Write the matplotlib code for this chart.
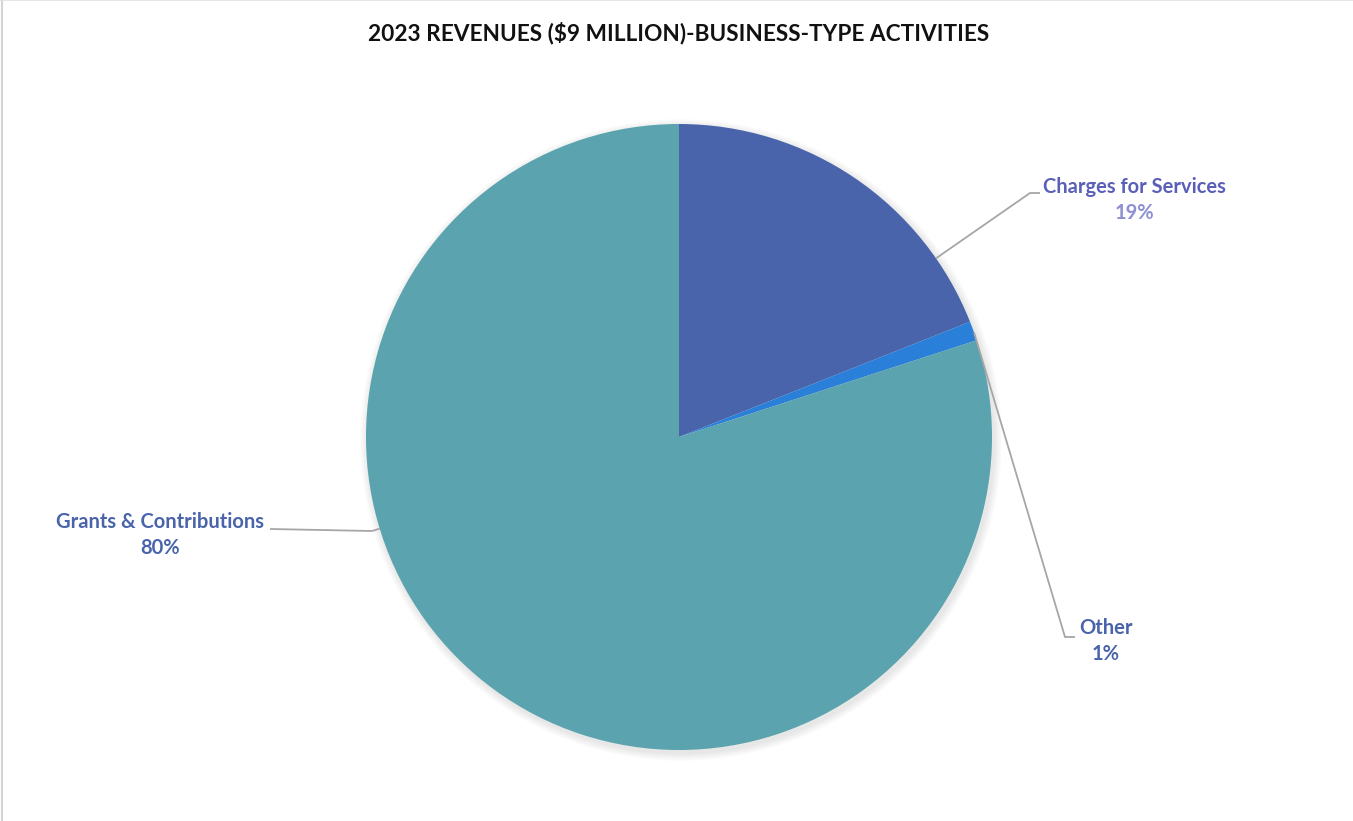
import numpy as np
import matplotlib.pyplot as plt

# revenue shares, percent
categories = ["Charges for Services", "Other", "Grants & Contributions"]
shares = [19, 1, 80]
colors = ["#4A64AC", "#2A7FD8", "#5BA3AE"]
name_colors = ["#5A5FB8", "#4A64AC", "#4A64AC"]
pct_colors = ["#8C8FD2", "#4A64AC", "#4A64AC"]

W, H = 1353, 821
fig = plt.figure(figsize=(W / 100, H / 100), dpi=100)
ax = fig.add_axes([0, 0, 1, 1])

cx, cy, r = 679, H - 437, 313

# soft shadow under the pie
for i in range(8):
    ax.add_patch(plt.Circle((cx + 2, cy - 3), r + 8 - i, color="#000000",
                            alpha=0.012, lw=0, zorder=0))

wedges, _ = ax.pie(shares, colors=colors, startangle=90, counterclock=False,
                   center=(cx, cy), radius=r, frame=True,
                   wedgeprops=dict(linewidth=0))
ax.set_xlim(0, W)
ax.set_ylim(0, H)
ax.set_aspect("equal")
ax.axis("off")

# leader line: elbow point, end point next to the text, text centre
elbows = [(1030, H - 193), (1065, H - 637), (372, H - 531)]
ends = [(1040, H - 193), (1075, H - 637), (270, H - 529)]
text_pos = [(1134, H - 200), (1106, H - 641), (160, H - 535)]


def angdiff(a, b):
    return abs((a - b + 180) % 360 - 180)


def edge_point(w, target):
    # point on the wedge's arc facing the label, kept inside the wedge
    t1, t2 = sorted((w.theta1, w.theta2))
    want = np.degrees(np.arctan2(target[1] - cy, target[0] - cx))
    ang = t1 + (want - t1) % 360
    if ang > t2:
        pad = min(1.5, (t2 - t1) / 2)
        ang = t1 + pad if angdiff(want, t1) < angdiff(want, t2) else t2 - pad
    a = np.deg2rad(ang)
    return cx + r * np.cos(a), cy + r * np.sin(a)


font = "Lato"
for w, name, pct, el, en, tp, nc, pc in zip(wedges, categories, shares, elbows,
                                            ends, text_pos, name_colors, pct_colors):
    px, py = edge_point(w, el)
    ax.plot([px, el[0], en[0]], [py, el[1], en[1]], color="#A6A6A6", lw=1.3,
            zorder=3, solid_capstyle="butt")
    ax.text(tp[0], tp[1] + 13, name, color=nc, fontsize=14.5, fontweight="bold",
            family=font, ha="center", va="center")
    ax.text(tp[0], tp[1] - 13, f"{pct}%", color=pc, fontsize=14.5, fontweight="bold",
            family=font, ha="center", va="center")

fig.text(0.5015, 1 - 33 / H, "2023 REVENUES ($9 MILLION)-BUSINESS-TYPE ACTIVITIES",
         ha="center", va="center", fontsize=16.3, fontweight="bold", family=font,
         color="#111111")

# thin frame on the left and top edges
fig.add_artist(plt.Line2D([0.0018, 0.0018], [0, 1], color="#D4D4D4", lw=1.5,
                          transform=fig.transFigure))
fig.add_artist(plt.Line2D([0, 1], [0.9995, 0.9995], color="#E0E0E0", lw=1.2,
                          transform=fig.transFigure))

fig.savefig("out.png", dpi=100, facecolor="white")
